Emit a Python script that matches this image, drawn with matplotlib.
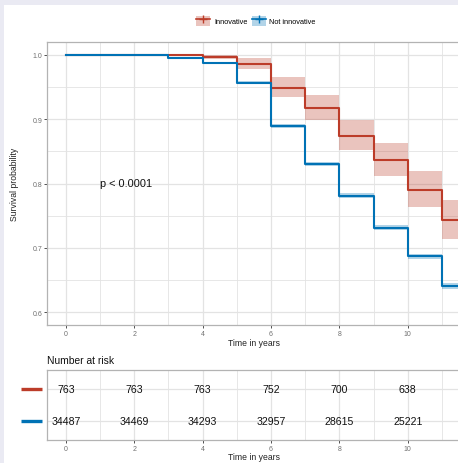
import matplotlib
matplotlib.use("Agg")
import matplotlib.pyplot as plt
from matplotlib.patches import Patch, Rectangle
from matplotlib.lines import Line2D
from matplotlib.legend_handler import HandlerTuple
import numpy as np

plt.rcParams['font.family'] = ['Liberation Sans', 'DejaVu Sans']

# ---- data ----
groups = ["Innovative", "Not innovative"]
times = [0, 1, 2, 3, 4, 5, 6, 7, 8, 9, 10, 11]
surv_innov = [1.0, 1.0, 1.0, 1.0, 0.997, 0.986, 0.949, 0.918, 0.874, 0.837, 0.790, 0.743]
lo_innov = [1.0, 1.0, 1.0, 1.0, 0.9935, 0.978, 0.934, 0.899, 0.852, 0.811, 0.763, 0.713]
hi_innov = [1.0, 1.0, 1.0, 1.0, 1.0, 0.9944, 0.965, 0.937, 0.899, 0.863, 0.820, 0.775]
surv_not = [1.0, 1.0, 0.9995, 0.995, 0.9866, 0.957, 0.889, 0.830, 0.781, 0.731, 0.687, 0.641]
lo_not = [1.0, 1.0, 0.9993, 0.9945, 0.9855, 0.955, 0.886, 0.827, 0.777, 0.727, 0.683, 0.636]
hi_not = [1.0, 1.0, 0.9997, 0.9955, 0.9877, 0.959, 0.892, 0.834, 0.785, 0.735, 0.691, 0.646]
risk_times = [0, 2, 4, 6, 8, 10]
risk_innov = [763, 763, 763, 752, 700, 638]
risk_not = [34487, 34469, 34293, 32957, 28615, 25221]
pval_text = "p < 0.0001"

RED = "#BC3C29"
BLUE = "#0072B5"
GRID = "#E3E3E3"
BORDER = "#B3B3B3"
TICKC = "#707070"

W, H = 458, 464
fig = plt.figure(figsize=(W / 100, H / 100), dpi=100)
fig.patch.set_facecolor("#EAEAF3")
fig.patches.append(Rectangle((4 / W, 0), 1, 1 - 6 / H, transform=fig.transFigure,
                             facecolor="white", edgecolor="none", zorder=-10))

XL = (-0.55, 11.55)
left = 47 / W
width = (460.7 - 47) / W

def style(ax):
    ax.set_facecolor("white")
    ax.set_xlim(*XL)
    for s in ax.spines.values():
        s.set_color(BORDER)
        s.set_linewidth(0.9)
    ax.set_xticks([0, 2, 4, 6, 8, 10])
    ax.set_xticks([1, 3, 5, 7, 9, 11], minor=True)
    ax.grid(True, which="major", color=GRID, lw=0.9)
    ax.grid(True, which="minor", color=GRID, lw=0.6)
    ax.set_axisbelow(True)
    ax.tick_params(axis="both", which="major", length=2, width=0.6, color="#333333",
                   labelsize=5, labelcolor=TICKC, pad=1.5)
    ax.tick_params(axis="both", which="minor", length=0)

# ---- main plot ----
ax = fig.add_axes([left, 1 - 326 / H, width, (326 - 43) / H])
style(ax)
ax.set_ylim(0.58, 1.02)
ax.set_yticks([0.6, 0.7, 0.8, 0.9, 1.0])
ax.set_yticks([0.65, 0.75, 0.85, 0.95], minor=True)
ax.set_yticklabels(["0.6", "0.7", "0.8", "0.9", "1.0"])

tt = list(times) + [XL[1]]
for s, lo, hi, c, a in [(surv_innov, lo_innov, hi_innov, RED, 0.3),
                        (surv_not, lo_not, hi_not, BLUE, 0.3)]:
    ax.fill_between(tt, list(lo) + [lo[-1]], list(hi) + [hi[-1]], step="post",
                    color=c, alpha=a, lw=0)
for s, c in [(surv_innov, RED), (surv_not, BLUE)]:
    ax.step(tt, list(s) + [s[-1]], where="post", color=c, lw=1.5, clip_on=True)

ax.text(1.0, 0.8, pval_text, fontsize=7.9, va="center", ha="left", color="#111111")
ax.set_ylabel("Survival probability", fontsize=6.2, color="#222222")
ax.yaxis.set_label_coords(-0.068, 0.5)
fig.text(254 / W, 1 - 343.3 / H, "Time in years", fontsize=6.2, ha="center", va="center",
         color="#222222")

# ---- legend ----
handles = [(Patch(facecolor=c, alpha=0.3, edgecolor="none"),
            Line2D([], [], color=c, lw=1.2, marker="+", markersize=6, markeredgewidth=1.0))
           for c in (RED, BLUE)]
fig.legend(handles, groups, handler_map={tuple: HandlerTuple(ndivide=1, pad=0)},
           loc="center", bbox_to_anchor=(256 / W, 1 - 22 / H), ncol=2, frameon=False,
           fontsize=5.3, handlelength=1.9, handleheight=1.9, handletextpad=0.5,
           columnspacing=0.6, borderpad=0)

# ---- risk table ----
tab = fig.add_axes([left, 1 - 440.7 / H, width, (440.7 - 370.7) / H])
style(tab)
tab.set_ylim(0.4, 2.6)
tab.set_yticks([1, 2])
tab.set_yticklabels(["", ""])
tab.tick_params(axis="y", length=0)
for t, v in zip(risk_times, risk_innov):
    tab.text(t, 2, str(v), ha="center", va="center", fontsize=7.6, color="#111111")
for t, v in zip(risk_times, risk_not):
    tab.text(t, 1, str(v), ha="center", va="center", fontsize=7.6, color="#111111")
for yv, c in [(2, RED), (1, BLUE)]:
    tab.plot([(21 - 47) / (460.7 - 47), (41.7 - 47) / (460.7 - 47)], [yv, yv], color=c,
             lw=2.4, transform=tab.get_yaxis_transform(), clip_on=False, solid_capstyle="butt")
fig.text(47 / W, 1 - 360.7 / H, "Number at risk", fontsize=7.4, ha="left", va="center",
         color="#111111")
fig.text(254 / W, 1 - 457.7 / H, "Time in years", fontsize=6.2, ha="center", va="center",
         color="#222222")

fig.savefig("out.png", dpi=100, facecolor=fig.get_facecolor())
